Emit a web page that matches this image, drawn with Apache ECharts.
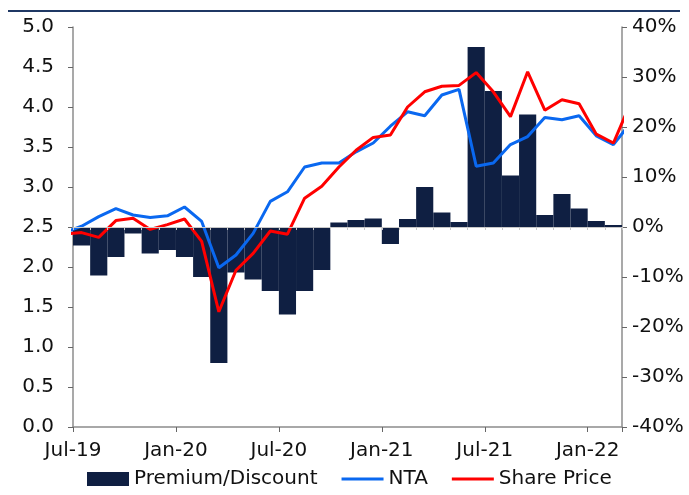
<!DOCTYPE html>
<html>
<head>
<meta charset="utf-8">
<script src="https://cdn.jsdelivr.net/npm/echarts@6/dist/echarts.min.js"></script>
<style>html,body{margin:0;padding:0;background:#fff}#c{width:689px;height:495px}</style>
</head>
<body>
<div id="c"></div>
<script>
// Months (Jun-19 and Mar-22 are partially clipped at the plot edges)
var months = ['Jun-19','Jul-19','Aug-19','Sep-19','Oct-19','Nov-19','Dec-19','Jan-20','Feb-20','Mar-20','Apr-20','May-20','Jun-20','Jul-20','Aug-20','Sep-20','Oct-20','Nov-20','Dec-20','Jan-21','Feb-21','Mar-21','Apr-21','May-21','Jun-21','Jul-21','Aug-21','Sep-21','Oct-21','Nov-21','Dec-21','Jan-22','Feb-22','Mar-22'];
var xTickLabels = ['Jul-19','Jan-20','Jul-20','Jan-21','Jul-21','Jan-22'];
var leftTicks = [0,0.5,1,1.5,2,2.5,3,3.5,4,4.5,5];
var rightTicks = [-40,-30,-20,-10,0,10,20,30,40];
var nta = [2.43,2.51,2.63,2.73,2.65,2.62,2.64,2.75,2.57,1.99,2.15,2.42,2.82,2.94,3.25,3.30,3.30,3.44,3.55,3.76,3.94,3.89,4.15,4.22,3.26,3.30,3.53,3.63,3.87,3.84,3.89,3.64,3.53,3.80];
var sharePrice = [2.41,2.43,2.37,2.58,2.61,2.47,2.53,2.60,2.32,1.44,1.96,2.17,2.45,2.41,2.86,3.01,3.25,3.46,3.62,3.65,4.00,4.19,4.26,4.27,4.43,4.19,3.88,4.44,3.96,4.09,4.04,3.66,3.55,4.05];
var premium = [-1.0,-3.7,-9.7,-6.0,-1.3,-5.3,-4.6,-6.0,-10.0,-27.2,-9.1,-10.5,-12.8,-17.5,-12.8,-8.6,0.9,1.4,1.7,-3.4,1.6,8.0,2.9,1.0,36.0,27.2,10.3,22.5,2.4,6.6,3.7,1.2,0.4,5.9];

// month i is centred at i - 0.5 on the x value axis (Jul-19 band starts at 0)
function pos(i){ return i - 0.5; }
var ntaData = nta.map(function(v,i){ return [pos(i), v]; });
var spData = sharePrice.map(function(v,i){ return [pos(i), v]; });
var pdData = premium.map(function(v,i){ return [pos(i), v]; });

var FONT = 'DejaVu Sans';
var FS = 20;
var LINE_ICON = 'path://M0,0 M0,5.5 L42,5.5 L42,8.5 L0,8.5 Z M42,14';
var chart = echarts.init(document.getElementById('c'));
chart.setOption({
  animation: false,
  backgroundColor: '#fff',
  textStyle: {fontFamily: FONT},
  grid: {left: 73, right: 67, top: 27, bottom: 68, containLabel: false, outerBoundsMode: 'none'},
  graphic: [{type: 'rect', left: 8, top: 10, shape: {width: 672, height: 2}, style: {fill: '#1f3864'}, silent: true}],
  legend: {
    left: 87, top: 469, padding: 0, itemWidth: 42, itemHeight: 14, itemGap: 24,
    textStyle: {fontFamily: FONT, fontSize: FS, color: '#111'},
    data: [
      {name: 'Premium/Discount', icon: 'rect'},
      {name: 'NTA', icon: LINE_ICON, itemStyle: {color: '#0a68f0', borderWidth: 0}},
      {name: 'Share Price', icon: LINE_ICON, itemStyle: {color: '#ff0000', borderWidth: 0}}
    ]
  },
  xAxis: [{
    type: 'value', min: 0, max: 32, interval: 6,
    axisLine: {show: true, onZero: false, lineStyle: {color: '#8c8c8c', width: 1.5}},
    axisTick: {show: true, length: 5, lineStyle: {color: '#666'}},
    splitLine: {show: false},
    axisLabel: {
      fontFamily: FONT, fontSize: FS, color: '#111', margin: 14,
      formatter: function(v){ return (v % 6 === 0 && xTickLabels[v/6]) ? xTickLabels[v/6] : ''; }
    }
  }, {
    type: 'value', min: 0, max: 32, interval: 1, position: 'bottom', z: 5,
    axisLine: {show: true, onZero: true, onZeroAxisIndex: 1, lineStyle: {color: '#c8c8c8', width: 1}},
    axisTick: {show: true, length: 3, lineStyle: {color: '#c8c8c8'}},
    axisLabel: {show: false}, splitLine: {show: false}
  }],
  yAxis: [{
    type: 'value', min: leftTicks[0], max: leftTicks[leftTicks.length-1], interval: 0.5,
    axisLine: {show: true, onZero: false, lineStyle: {color: '#8c8c8c', width: 1.5}},
    axisTick: {show: true, length: 5, lineStyle: {color: '#666'}},
    splitLine: {show: false},
    axisLabel: {fontFamily: FONT, fontSize: FS, color: '#111', margin: 19, formatter: function(v){ return v.toFixed(1); }}
  }, {
    type: 'value', min: rightTicks[0], max: rightTicks[rightTicks.length-1], interval: 10, position: 'right',
    axisLine: {show: true, onZero: false, lineStyle: {color: '#8c8c8c', width: 1.5}},
    axisTick: {show: true, length: 5, lineStyle: {color: '#666'}},
    splitLine: {show: false},
    axisLabel: {fontFamily: FONT, fontSize: FS, color: '#111', margin: 10, formatter: function(v){ return v + '%'; }}
  }],
  series: [{
    name: 'Premium/Discount', type: 'custom', xAxisIndex: 0, yAxisIndex: 1, z: 2,
    itemStyle: {color: '#0f1f42'}, color: '#0f1f42',
    encode: {x: 0, y: 1},
    renderItem: function(params, api){
      var x = api.value(0), v = api.value(1);
      var p0 = api.coord([x - 0.5, v]);
      var p1 = api.coord([x + 0.5, 0]);
      var rect = {x: p0[0], y: Math.min(p0[1], p1[1]), width: p1[0] - p0[0], height: Math.abs(p1[1] - p0[1])};
      var cs = params.coordSys;
      var clipped = echarts.graphic.clipRectByRect(rect, {x: cs.x, y: cs.y, width: cs.width, height: cs.height});
      if (!clipped || clipped.width <= 0) return null;
      return {type: 'rect', shape: clipped, style: {fill: '#0f1f42'}};
    },
    data: pdData
  }, {
    name: 'NTA', type: 'line', xAxisIndex: 0, yAxisIndex: 0, z: 3,
    symbol: 'none', color: '#0a68f0', lineStyle: {color: '#0a68f0', width: 3},
    data: ntaData
  }, {
    name: 'Share Price', type: 'line', xAxisIndex: 0, yAxisIndex: 0, z: 4,
    symbol: 'none', color: '#ff0000', lineStyle: {color: '#ff0000', width: 3},
    data: spData
  }]
});
</script>
</body>
</html>
